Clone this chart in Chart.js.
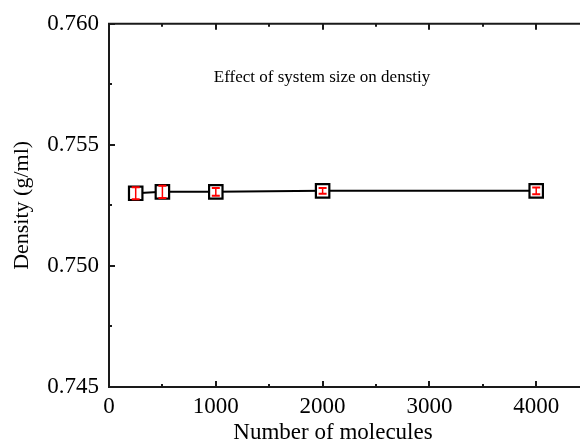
<!DOCTYPE html>
<html>
<head>
<meta charset="utf-8">
<script src="https://cdn.jsdelivr.net/npm/chart.js@4/dist/chart.umd.min.js"></script>
<style>
  html, body { margin: 0; padding: 0; background: #fff; }
  #wrap { width: 580px; height: 444px; position: relative; }
</style>
</head>
<body>
<div id="wrap"><canvas id="density_chart"></canvas></div>
<script>
Chart.defaults.responsive = true;
Chart.defaults.maintainAspectRatio = false;
Chart.defaults.font.family = "'Liberation Serif', 'Times New Roman', serif";
Chart.defaults.color = "#000";

// system sizes and measured densities
const molecules = [250, 500, 1000, 2000, 4000];
const density = [0.753, 0.75306, 0.75306, 0.7531, 0.7531];
const densityErr = [0.00025, 0.00025, 0.00016, 0.00012, 0.00014];

// axis ticks
const xTicks = [0, 1000, 2000, 3000, 4000];
const xMinor = [500, 1500, 2500, 3500];
const yTicks = [0.745, 0.75, 0.755, 0.76];
const yMinor = [0.7475, 0.7525, 0.7575];

const AXIS_COLOR = "#1a1a1a";

const ctx = document.getElementById("density_chart").getContext("2d");

// inward tick marks, top frame line and red error bars
const framePlugin = {
  id: "frame",
  beforeDatasetsDraw(chart) {
    const { ctx, chartArea: a, scales } = chart;
    ctx.save();
    ctx.strokeStyle = AXIS_COLOR;
    ctx.lineWidth = 2;
    ctx.beginPath();
    ctx.moveTo(a.left - 1, a.top);
    ctx.lineTo(a.right, a.top);
    ctx.stroke();

    const tick = (x1, y1, x2, y2) => {
      ctx.beginPath();
      ctx.moveTo(x1, y1);
      ctx.lineTo(x2, y2);
      ctx.stroke();
    };
    xTicks.forEach((v) => {
      const x = Math.round(scales.x.getPixelForValue(v));
      tick(x, a.bottom, x, a.bottom - 6);
      tick(x, a.top, x, a.top + 6);
    });
    xMinor.forEach((v) => {
      const x = Math.round(scales.x.getPixelForValue(v));
      tick(x, a.bottom, x, a.bottom - 3);
      tick(x, a.top, x, a.top + 3);
    });
    yTicks.forEach((v) => {
      const y = Math.round(scales.y.getPixelForValue(v));
      tick(a.left, y, a.left + 6, y);
    });
    yMinor.forEach((v) => {
      const y = Math.round(scales.y.getPixelForValue(v));
      tick(a.left, y, a.left + 3, y);
    });
    ctx.restore();
  },
  afterDatasetsDraw(chart) {
    const { ctx, scales } = chart;
    ctx.save();
    ctx.strokeStyle = "#ff0000";
    molecules.forEach((m, i) => {
      const x = scales.x.getPixelForValue(m);
      const yTop = scales.y.getPixelForValue(density[i] + densityErr[i]);
      const yBot = scales.y.getPixelForValue(density[i] - densityErr[i]);
      ctx.lineWidth = 1.5;
      ctx.beginPath();
      ctx.moveTo(x, yTop);
      ctx.lineTo(x, yBot);
      ctx.stroke();
      ctx.lineWidth = 2;
      ctx.beginPath();
      ctx.moveTo(x - 4, yTop);
      ctx.lineTo(x + 4, yTop);
      ctx.moveTo(x - 4, yBot);
      ctx.lineTo(x + 4, yBot);
      ctx.stroke();
    });

    // caption inside the plot and x axis title
    ctx.fillStyle = "#000";
    ctx.textAlign = "center";
    ctx.textBaseline = "middle";
    ctx.font = "17px 'Liberation Serif', serif";
    ctx.fillText("Effect of system size on denstiy", 322, 78);
    ctx.font = "23px 'Liberation Serif', serif";
    ctx.fillText("Number of molecules", 333, 433);
    ctx.restore();
  },
};

new Chart(ctx, {
  type: "scatter",
  data: {
    datasets: [
      {
        label: "Density",
        data: molecules.map((m, i) => ({ x: m, y: density[i] })),
        showLine: true,
        borderColor: "#000",
        borderWidth: 2,
        pointStyle: "rect",
        pointRadius: 9.5,
        pointHoverRadius: 9.5,
        pointBorderWidth: 2.2,
        pointBorderColor: "#000",
        pointBackgroundColor: "#fff",
      },
    ],
  },
  options: {
    animation: false,
    events: [],
    layout: {
      autoPadding: false,
      padding: { top: 19, right: 0, left: 0, bottom: 0 },
    },
    plugins: {
      legend: { display: false },
      tooltip: { enabled: false },
    },
    scales: {
      x: {
        type: "linear",
        min: 0,
        max: 4410,
        afterBuildTicks: (scale) => {
          scale.ticks = xTicks.map((v) => ({ value: v }));
        },
        afterFit: (scale) => {
          scale.height = 57;
          scale.paddingLeft = 0;
          scale.paddingRight = 0;
        },
        grid: { display: false, drawTicks: false },
        border: { display: true, color: AXIS_COLOR, width: 2 },
        ticks: {
          autoSkip: false,
          maxRotation: 0,
          padding: 6,
          font: { size: 23 },
          color: "#000",
          callback: (v) => String(v),
        },
      },
      y: {
        type: "linear",
        min: 0.745,
        max: 0.76,
        afterBuildTicks: (scale) => {
          scale.ticks = yTicks.map((v) => ({ value: v }));
        },
        afterFit: (scale) => {
          scale.width = 109;
        },
        grid: { display: false, drawTicks: false },
        border: { display: true, color: AXIS_COLOR, width: 2 },
        ticks: {
          autoSkip: false,
          padding: 10,
          font: { size: 23 },
          color: "#000",
          callback: (v) => Number(v).toFixed(3),
        },
        title: {
          display: true,
          text: "Density (g/ml)",
          font: { size: 22 },
          color: "#000",
          padding: { top: 9, bottom: 0 },
        },
      },
    },
  },
  plugins: [framePlugin],
});
</script>
</body>
</html>
